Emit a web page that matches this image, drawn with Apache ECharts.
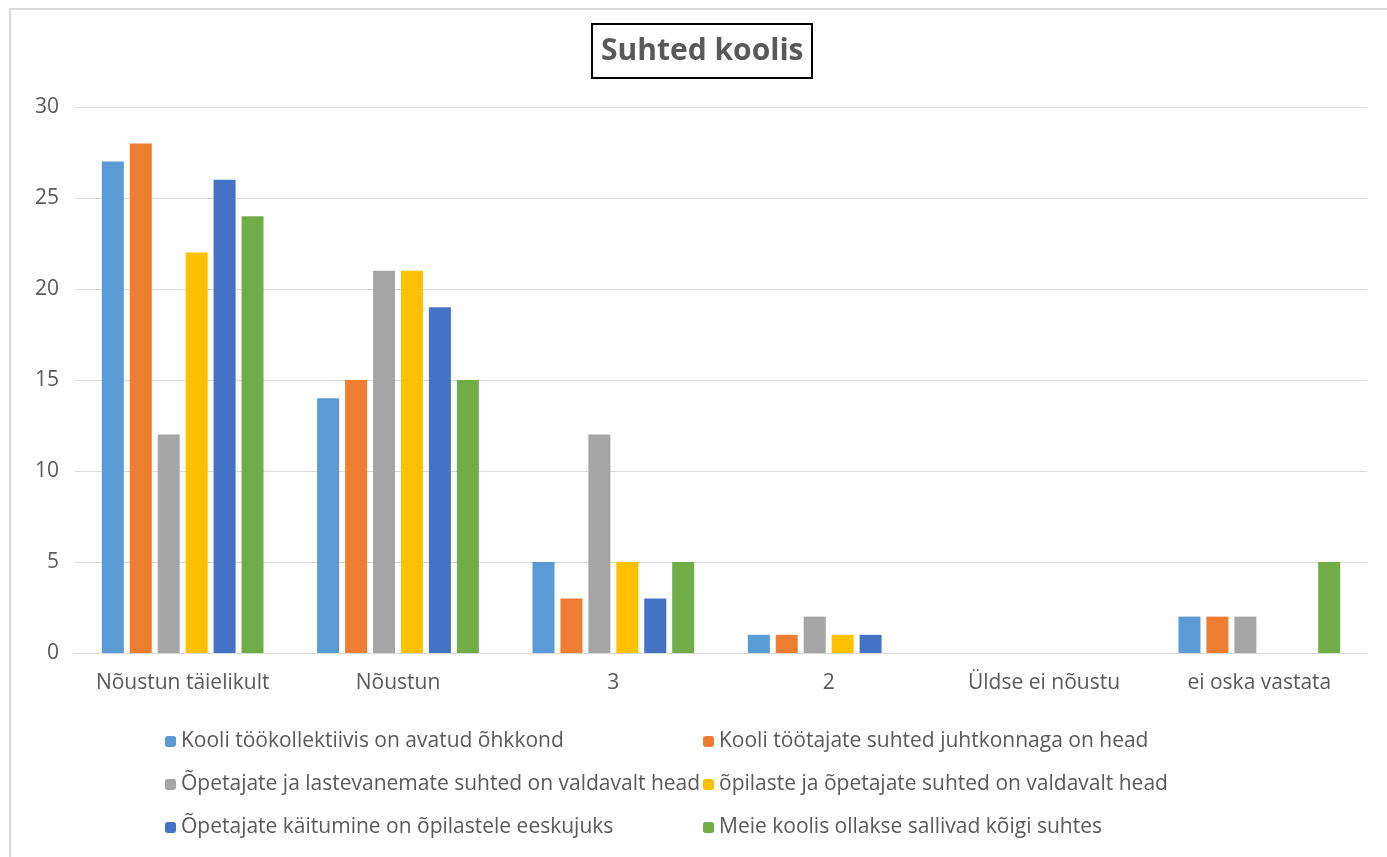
<!DOCTYPE html>
<html>
<head>
<meta charset="utf-8">
<script src="https://cdn.jsdelivr.net/npm/echarts@6/dist/echarts.min.js"></script>
<style>
  html, body { margin: 0; padding: 0; background: #fff; }
  #main { width: 1387px; height: 857px; }
</style>
</head>
<body>
<div id="main"></div>
<script>
var categories = ['Nõustun täielikult', 'Nõustun', '3', '2', 'Üldse ei nõustu', 'ei oska vastata'];
var seriesNames = [
  'Kooli töökollektiivis on avatud õhkkond',
  'Kooli töötajate suhted juhtkonnaga on head',
  'Õpetajate ja lastevanemate suhted on valdavalt head',
  'õpilaste ja õpetajate suhted on valdavalt head',
  'Õpetajate käitumine on õpilastele eeskujuks',
  'Meie koolis ollakse sallivad kõigi suhtes'
];
var s1 = [27, 14, 5, 1, 0, 2];
var s2 = [28, 15, 3, 1, 0, 2];
var s3 = [12, 21, 12, 2, 0, 2];
var s4 = [22, 21, 5, 1, 0, 0];
var s5 = [26, 19, 3, 1, 0, 0];
var s6 = [24, 15, 5, 0, 0, 5];
var values = [s1, s2, s3, s4, s5, s6];
var colors = ['#5B9BD5', '#ED7D31', '#A5A5A5', '#FFC000', '#4472C4', '#70AD47'];

var chart = echarts.init(document.getElementById('main'));

var series = [];
for (var i = 0; i < values.length; i++) {
  series.push({
    name: seriesNames[i],
    type: 'bar',
    data: values[i],
    barWidth: 22,
    barGap: '27%',
    itemStyle: { color: colors[i] }
  });
}

var legendText = { color: '#595959', fontSize: 21, fontFamily: 'Open Sans' };

var option = {
  color: colors,
  animation: false,
  title: {
    text: 'Suhted koolis',
    left: 592,
    top: 24,
    padding: [12, 9, 12, 9],
    borderColor: '#000',
    borderWidth: 2,
    textStyle: { color: '#595959', fontSize: 30, fontWeight: 'bold', fontFamily: 'Open Sans' }
  },
  legend: [
    {
      data: [seriesNames[0], seriesNames[2], seriesNames[4]],
      orient: 'vertical',
      left: 160,
      top: 726,
      itemWidth: 11,
      itemHeight: 11,
      itemGap: 22,
      textStyle: legendText
    },
    {
      data: [seriesNames[1], seriesNames[3], seriesNames[5]],
      orient: 'vertical',
      left: 698,
      top: 726,
      itemWidth: 11,
      itemHeight: 11,
      itemGap: 22,
      textStyle: legendText
    }
  ],
  grid: {
    left: 75,
    right: 20,
    top: 107,
    bottom: 204
  },
  xAxis: {
    type: 'category',
    data: categories,
    axisTick: { show: false },
    axisLine: { lineStyle: { color: '#d9d9d9' } },
    axisLabel: { color: '#595959', fontSize: 21, fontFamily: 'Open Sans', margin: 20, interval: 0 }
  },
  yAxis: {
    type: 'value',
    min: 0,
    max: 30,
    interval: 5,
    axisLine: { show: false },
    axisTick: { show: false },
    splitLine: { lineStyle: { color: '#d9d9d9' } },
    axisLabel: { color: '#595959', fontSize: 21, fontFamily: 'Open Sans', margin: 16 }
  },
  graphic: [
    {
      type: 'polyline',
      shape: { points: [[10, 857], [10, 9], [1387, 9]] },
      style: { stroke: '#d9d9d9', lineWidth: 2, fill: null }
    }
  ],
  series: series
};

chart.setOption(option);
</script>
</body>
</html>
